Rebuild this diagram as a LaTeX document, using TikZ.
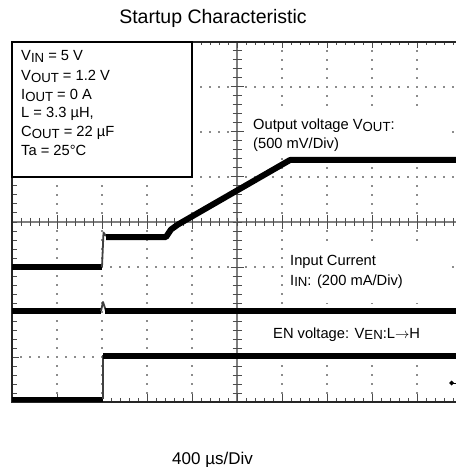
\documentclass[tikz,border=0pt]{standalone}
\usepackage{fontspec}
\setmainfont{Liberation Sans}
\newcommand\lsub[1]{\raisebox{-1.7bp}{\fontsize{13.2bp}{14bp}\selectfont #1}}
\begin{document}
\begin{tikzpicture}[x=1bp,y=-1bp,
  edge/.style={draw=black!85,line width=1.4bp},
  axis/.style={draw=black!50,line width=1.8bp},
  tick/.style={draw=black!70,line width=1bp},
  griddot/.style={draw=black!45,line width=1.2bp,dash pattern=on 1.5bp off 7.5bp,dash phase=0.75bp},
  trace/.style={draw=black,line width=6bp,line join=round},
  thintrace/.style={draw=black!75,line width=1.8bp,line join=round},
  lbl/.style={anchor=base west,inner sep=0pt,font=\fontsize{14.7bp}{16bp}\selectfont},
  mask/.style={fill=white,draw=none},
]
\useasboundingbox (0,0) rectangle (456,467);
\begin{scope}
\clip (0,0) rectangle (456,467);
% grid dots
\foreach \x in {57,102,147,192,282,327,372,417,462} \draw[griddot] (\x,42) -- (\x,402);
\foreach \y in {87,132,177,267,312,357} \draw[griddot] (12,\y) -- (462,\y);
% centre axes
\draw[axis] (237,42) -- (237,402);
\draw[axis] (12,222) -- (462,222);
% ticks on the centre axes
\foreach \k in {1,...,39} \draw[tick] (232.5,42+9*\k) -- ++(9,0);
\foreach \y in {87,132,177,267,312,357} \draw[tick] (230.5,\y) -- ++(13,0);
\foreach \k in {1,...,49} \draw[tick] (12+9*\k,218) -- ++(0,8);
\foreach \x in {57,102,147,192,282,327,372,417} \draw[tick] (\x,215.5) -- ++(0,13);
% frame ticks
\foreach \k in {1,...,49} \draw[tick] (12+9*\k,42) -- ++(0,3);
\foreach \x in {57,102,...,417} \draw[tick] (\x,42) -- ++(0,6);
\foreach \k in {1,...,49} \draw[tick] (12+9*\k,402) -- ++(0,-4);
\foreach \x in {57,102,...,417} \draw[tick] (\x,402) -- ++(0,-8);
\foreach \k in {1,...,39} \draw[tick] (12,42+9*\k) -- ++(5,0);
\foreach \y in {87,132,177,267,312,357} \draw[tick] (12,\y) -- ++(7,0);
% frame
\draw[edge] (462,42) -- (12,42) -- (12,402) -- (462,402);
% label masks
\fill[mask] (245,112) rectangle (447,157);
\fill[mask] (286,247) rectangle (450,303);
\fill[mask] (268,319) rectangle (450,349);
% legend box
\draw[black,line width=2bp,fill=white] (12,42) rectangle (192,177);
% traces
\draw[trace] (12,267) -- (102,267);
\draw[thintrace] (102,267) -- (103.5,232.5) -- (106,236);
\draw[trace] (106,237) -- (166,237) -- (171,229.5) -- (178,224.5) -- (290,160) -- (462,160);
\draw[trace] (12,311) -- (101,311);
\draw[thintrace] (101,311) -- (103,302) -- (106,311);
\draw[trace] (105,311) -- (462,311);
\draw[trace,line width=4.5bp] (12,399.5) -- (103,399.5);
\draw[thintrace] (103,399) -- (103,355);
\draw[trace] (103,356) -- (462,356);
% ground marker
\fill[black] (449,383) -- (451.5,380.5) -- (454,383) -- (451.5,385.5) -- cycle;
\draw[black,line width=1bp] (451,383) -- (456,383);
\end{scope}
% texts
\node[anchor=base,inner sep=0pt,font=\fontsize{19.5bp}{22bp}\selectfont] (title) at (213,24) {Startup Characteristic};
\node[lbl] (vin) at (21,61) {V\lsub{IN} = 5 V};
\node[lbl] (vout) at (21,80.5) {V\lsub{OUT} = 1.2 V};
\node[lbl] (iout) at (21,99.5) {I\lsub{OUT} = 0 A};
\node[lbl] (ind) at (21,118) {L = 3.3 µH,};
\node[lbl] (cout) at (21,137) {C\lsub{OUT} = 22 µF};
\node[lbl] (ta) at (21,155.5) {Ta = 25°C};
\node[lbl] (outlbl) at (253,130) {Output voltage V\lsub{OUT}:};
\node[lbl] (outdiv) at (253,149) {(500 mV/Div)};
\node[lbl] (inlbl) at (290,265) {Input Current};
\node[lbl] (indiv) at (290,285) {I\lsub{IN}: (200 mA/Div)};
\node[lbl] (enlbl) at (273,338) {EN voltage: V\lsub{EN}:L$\rightarrow$H};
\node[anchor=base west,inner sep=0pt,font=\fontsize{17bp}{19bp}\selectfont] (tdiv) at (172,464) {400 µs/Div};
\end{tikzpicture}
\end{document}
